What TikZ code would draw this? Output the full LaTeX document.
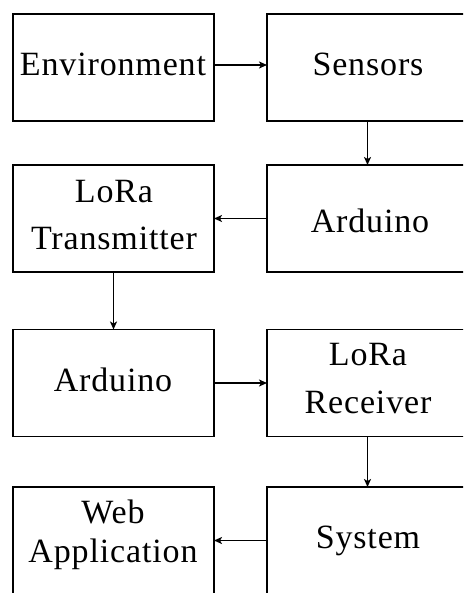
\documentclass[tikz,border=0pt]{standalone}
\usepackage{fontspec}
\setmainfont{Liberation Serif}
\newfontfamily\lblfont[LetterSpace=2.5]{Liberation Serif}
\usetikzlibrary{arrows.meta}
\begin{document}
\begin{tikzpicture}[x=1pt,y=-1pt,
  blk/.style={draw=black,line width=1.8pt,minimum width=201pt,minimum height=107pt,inner sep=0pt,outer sep=0pt},
  lbl/.style={anchor=base,inner sep=0pt,font=\lblfont\fontsize{34}{40}\selectfont},
  conn/.style={line width=1.9pt,-{Stealth[length=8pt,width=7pt,inset=2pt]}}]
\clip (0,0) rectangle (463,593);
\fill[white] (0,0) rectangle (463,593);
% boxes
\node[blk] (env) at (113.5,67.5) {};
\node[blk] (sen) at (367.5,67.5) {};
\node[blk] (ltx) at (113.5,218.5) {};
\node[blk] (ard1) at (367.5,218.5) {};
\node[blk] (ard2) at (113.5,383) {};
\node[blk] (lrx) at (367.5,383) {};
\node[blk] (web) at (113.5,540.5) {};
\node[blk] (sys) at (367.5,540.5) {};
% labels
\node[lbl] (tenv) at (113,76) {Environment};
\node[lbl] (tsen) at (368,76) {Sensors};
\node[lbl] (tltx1) at (114,203) {LoRa};
\node[lbl] (tltx2) at (114,250) {Transmitter};
\node[lbl] (tard1) at (370,233) {Arduino};
\node[lbl] (tard2) at (113,391) {Arduino};
\node[lbl] (tlrx1) at (368,365) {LoRa};
\node[lbl] (tlrx2) at (368,413) {Receiver};
\node[lbl] (tweb1) at (113,523) {Web};
\node[lbl] (tweb2) at (113,562) {Application};
\node[lbl] (tsys) at (368,548) {System};
% connectors
\draw[conn] ([yshift=2.5pt]env.east) -- ([yshift=2.5pt]sen.west);
\draw[conn] (sen.south) -- (ard1.north);
\draw[conn] (ard1.west) -- (ltx.east);
\draw[conn] (ltx.south) -- (ard2.north);
\draw[conn] (ard2.east) -- (lrx.west);
\draw[conn] (lrx.south) -- (sys.north);
\draw[conn] (sys.west) -- (web.east);
\end{tikzpicture}
\end{document}
